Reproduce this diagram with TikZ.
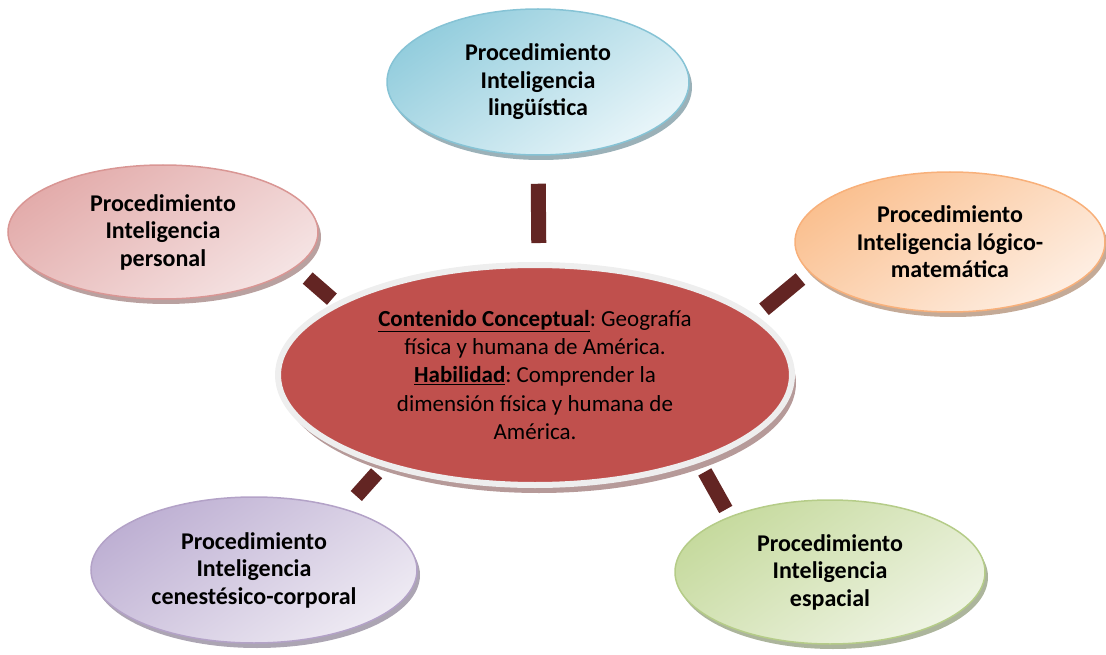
\documentclass[tikz,border=0pt]{standalone}
\usepackage{fontspec}
\setmainfont{Carlito}
\frenchspacing
\usetikzlibrary{shapes.geometric,shadows}
\definecolor{barcol}{HTML}{632523}
\definecolor{cred}{HTML}{C0504D}
\definecolor{ringcol}{HTML}{EEEEEE}
\definecolor{bluedk}{HTML}{93CDDD}\definecolor{bluelt}{HTML}{E8F5F9}\definecolor{bluebd}{HTML}{86C3D5}
\definecolor{pinkdk}{HTML}{E3ACAB}\definecolor{pinklt}{HTML}{F5E3E3}\definecolor{pinkbd}{HTML}{D99694}
\definecolor{orgdk}{HTML}{FAC090}\definecolor{orglt}{HTML}{FEEEE2}\definecolor{orgbd}{HTML}{F8B07A}
\definecolor{purdk}{HTML}{BEB0D3}\definecolor{purlt}{HTML}{EEEAF3}\definecolor{purbd}{HTML}{B3A2C7}
\definecolor{grndk}{HTML}{C6DA9E}\definecolor{grnlt}{HTML}{EFF4E4}\definecolor{grnbd}{HTML}{B5CC88}
\tikzset{
  proc/.style n args={3}{ellipse, inner sep=0pt, line width=1.5pt, draw=#3,
    top color=#1, bottom color=#2, shading angle=35,
    drop shadow={shadow xshift=3pt, shadow yshift=-5pt, opacity=1, fill=#3!45!gray!80},
    font=\fontsize{24}{27.5}\selectfont\bfseries, align=center, text=black},
  bar/.style={draw=barcol, line width=15pt},
}
\begin{document}
\begin{tikzpicture}[x=1pt,y=-1pt]
\useasboundingbox (0,0) rectangle (1106,655);
% central node
\node[ellipse, inner sep=0pt, minimum width=514pt, minimum height=220pt,
  draw=ringcol, line width=6pt, fill=cred,
  drop shadow={shadow xshift=4pt, shadow yshift=-8pt, opacity=1, fill=cred!35!gray!70},
  font=\fontsize{23}{28.3}\selectfont, align=center]
  (c) at (535,375) {\underline{\textbf{Contenido Conceptual}}: Geografía\\física y humana de América.\\\underline{\textbf{Habilidad}}: Comprender la\\dimensión física y humana de\\América.};
% outer nodes
\node[proc={bluedk}{bluelt}{bluebd}, minimum width=302pt, minimum height=146pt]
  (t) at (538,82) {Procedimiento\\Inteligencia\\lingüística};
\node[proc={pinkdk}{pinklt}{pinkbd}, minimum width=310pt, minimum height=134pt]
  (p) at (163,232) {Procedimiento\\Inteligencia\\personal};
\node[proc={orgdk}{orglt}{orgbd}, minimum width=310pt, minimum height=140pt]
  (l) at (950,242) {Procedimiento\\Inteligencia lógico-\\matemática};
\node[proc={purdk}{purlt}{purbd}, minimum width=326pt, minimum height=146pt]
  (k) at (254,570) {Procedimiento\\Inteligencia\\cenestésico-corporal};
\node[proc={grndk}{grnlt}{grnbd}, minimum width=310pt, minimum height=144pt]
  (e) at (830,572) {Procedimiento\\Inteligencia\\espacial};
% connectors
\draw[bar, shorten <=19pt, shorten >=28pt] (c.88.5) -- (t.-90);
\draw[bar, shorten <=5pt, shorten >=16pt] (c.160.2) -- (p.-15);
\draw[bar, shorten <=10pt, shorten >=11pt] (c.15.1) -- (l.192);
\draw[bar, shorten <=9pt, shorten >=17pt] (c.211.2) -- (k.34.6);
\draw[bar, shorten <=10.8pt, shorten >=7.9pt] (c.-28.1) -- (e.151);
\end{tikzpicture}
\end{document}
